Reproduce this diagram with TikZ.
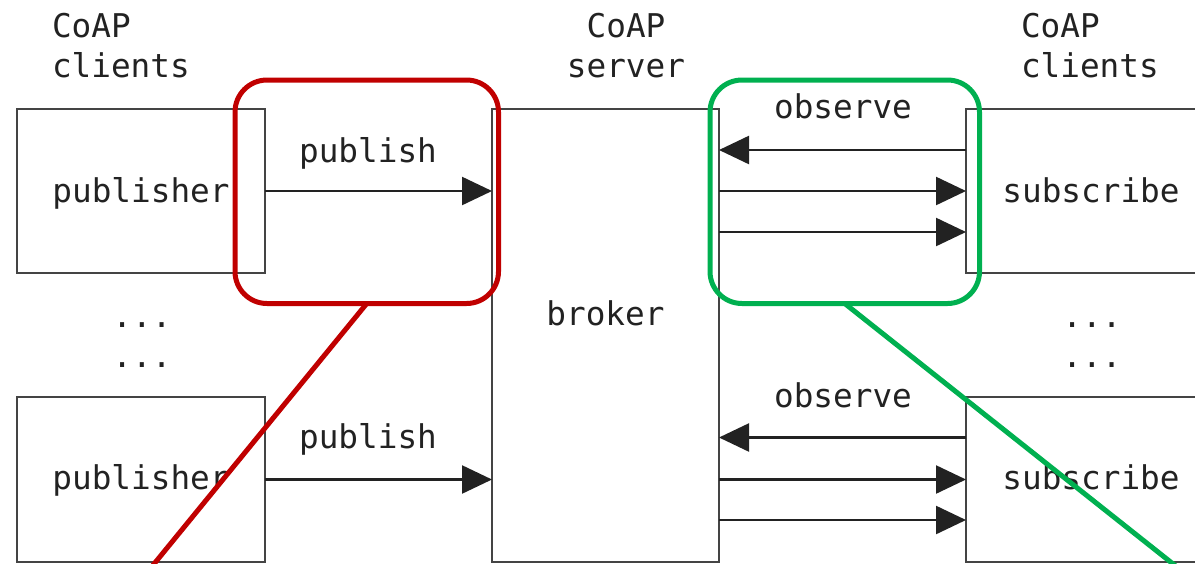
\documentclass[tikz,border=0pt]{standalone}
\usepackage{fontspec}
\setmainfont{DejaVu Sans Mono}
\setmonofont{DejaVu Sans Mono}
\usetikzlibrary{arrows.meta}
\definecolor{boxline}{HTML}{444444}
\definecolor{ink}{HTML}{222222}
\definecolor{zoomred}{HTML}{C00000}
\definecolor{zoomgreen}{HTML}{00B050}
\begin{document}
\begin{tikzpicture}[x=0.5pt,y=-0.5pt,
  every node/.style={font=\fontsize{16.35}{20}\selectfont, text=ink, inner sep=0pt, outer sep=0pt},
  entity/.style={draw=boxline, line width=1.2pt, rectangle},
  msg/.style={draw=ink, line width=1.2pt, -{Triangle[length=15pt,width=14pt]}},
  zoombox/.style={line width=2.5pt, rounded corners=16pt, rectangle},
]
\useasboundingbox (0,0) rectangle (1195,563);
\clip (0,0) rectangle (1195,563);

% headers
\node[anchor=base west, align=left] (hl) at (52,77) {CoAP\\clients};
\node[anchor=base, align=center] (hs) at (626,77) {CoAP\\server};
\node[anchor=base west, align=left] (hr) at (1021,77) {CoAP\\clients};

% boxes
\node[entity, minimum width=124pt, minimum height=82pt] (pubA) at (141,191) {};
\node[entity, minimum width=124pt, minimum height=82.5pt] (pubB) at (141,479.5) {};
\node[entity, minimum width=113.5pt, minimum height=226.5pt] (broker) at (605.5,335.5) {};
\node[entity, minimum width=129pt, minimum height=82pt] (subA) at (1095,191) {};
\node[entity, minimum width=129pt, minimum height=82.5pt] (subB) at (1095,479.5) {};

% box texts
\node[anchor=base] (tpubA) at (141,202) {publisher};
\node[anchor=base] (tpubB) at (141,489) {publisher};
\node[anchor=base] (tbroker) at (605.5,325) {broker};
\node[anchor=base] (tsubA) at (1091,202) {subscribe};
\node[anchor=base] (tsubB) at (1091,489) {subscribe};

% dots
\node[anchor=base] (dl1) at (142,327) {...};
\node[anchor=base] (dl2) at (142,367) {...};
\node[anchor=base] (dr1) at (1092,327) {...};
\node[anchor=base] (dr2) at (1092,367) {...};

% publish arrows
\draw[msg] (pubA.east) -- (pubA.east -| broker.west);
\node[anchor=base] (lpA) at (368,162) {publish};
\draw[msg] (pubB.east) -- (pubB.east -| broker.west);
\node[anchor=base] (lpB) at (368,448) {publish};

% observe arrows (top)
\draw[msg] ([yshift=20.5pt]subA.west) -- ([yshift=20.5pt]subA.west -| broker.east);
\draw[msg] (subA.west -| broker.east) -- (subA.west);
\draw[msg] ([yshift=-20.5pt]subA.west -| broker.east) -- ([yshift=-20.5pt]subA.west);
\node[anchor=base] (loA) at (843,118) {observe};

% observe arrows (bottom)
\draw[msg] ([yshift=21pt]subB.west) -- ([yshift=21pt]subB.west -| broker.east);
\draw[msg] (subB.west -| broker.east) -- (subB.west);
\draw[msg] ([yshift=-20.25pt]subB.west -| broker.east) -- ([yshift=-20.25pt]subB.west);
\node[anchor=base] (loB) at (843,407) {observe};

% zoom highlights
\node[zoombox, draw=zoomred, minimum width=131.75pt, minimum height=111.75pt] (redbox) at (366.75,191.75) {};
\node[zoombox, draw=zoomgreen, minimum width=134.75pt, minimum height=111.75pt] (greenbox) at (844.75,191.75) {};
\coordinate (redend) at (145,575);
\coordinate (greenend) at (1187,575);
\draw[zoomred, line width=2.5pt] (redbox.south) -- (redend);
\draw[zoomgreen, line width=2.5pt] (greenbox.south) -- (greenend);
\end{tikzpicture}
\end{document}
